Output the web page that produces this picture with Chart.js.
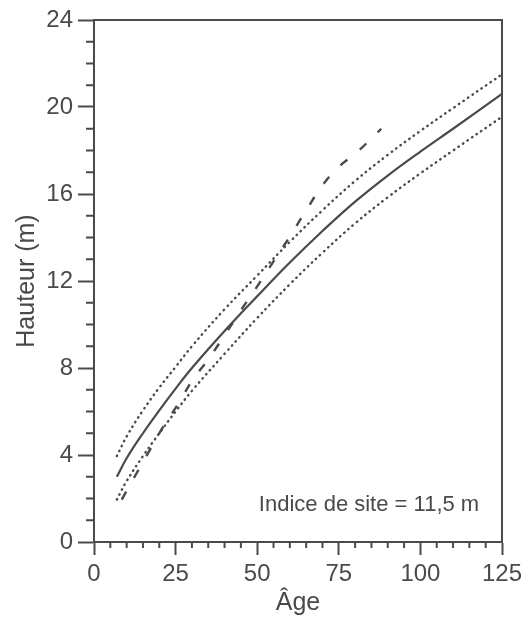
<!DOCTYPE html>
<html>
<head>
<meta charset="utf-8">
<script src="https://cdn.jsdelivr.net/npm/chart.js@4"></script>
<style>
  html, body { margin: 0; padding: 0; background: #fff; }
  #wrap { width: 532px; height: 624px; }
</style>
</head>
<body>
<div id="wrap"><canvas id="heightChart" width="532" height="624"></canvas></div>
<script>
// Courbe de hauteur, indice de site 11,5 m
var ages = [7, 10, 15, 20, 25, 30, 40, 50, 60, 70, 80, 90, 100, 110, 125];
var meanHeight = [3.0, 3.85, 5.0, 6.05, 7.05, 8.0, 9.7, 11.3, 12.85, 14.3, 15.65, 16.85, 17.95, 19.0, 20.6];
var upperHeight = [3.95, 4.85, 6.05, 7.1, 8.05, 9.0, 10.7, 12.25, 13.8, 15.25, 16.6, 17.8, 18.9, 19.95, 21.5];
var lowerHeight = [1.95, 2.8, 3.95, 5.0, 6.0, 6.95, 8.65, 10.3, 11.85, 13.3, 14.65, 15.85, 16.95, 18.0, 19.55];

var obsAges = [8.5, 13, 17, 21, 26, 30, 35, 40, 45, 50, 55, 60, 65, 70, 75, 80, 85, 88];
var obsHeight = [1.95, 3.15, 4.2, 5.25, 6.4, 7.4, 8.4, 9.5, 10.65, 11.75, 12.9, 14.05, 15.25, 16.4, 17.25, 17.85, 18.55, 19.0];

var xTicks = [0, 25, 50, 75, 100, 125];
var yTicks = [0, 4, 8, 12, 16, 20, 24];
var siteLabel = 'Indice de site = 11,5 m';

var INK = '#4a4a4a';
var FONT = "'Liberation Sans', Arial, Helvetica, sans-serif";

function pairs(xs, ys) {
    return xs.map(function (x, i) { return { x: x, y: ys[i] }; });
}

// minor ticks, frame (top/right) and the site index note
var extras = {
    id: 'extras',
    afterDraw: function (chart) {
        var ctx = chart.ctx;
        var xs = chart.scales.x;
        var ys = chart.scales.y;
        var a = chart.chartArea;
        ctx.save();
        ctx.strokeStyle = INK;
        ctx.lineWidth = 2;
        ctx.beginPath();
        for (var v = 0; v <= 125; v += 5) {
            if (v % 25 === 0) continue;
            var px = xs.getPixelForValue(v);
            ctx.moveTo(px, a.bottom);
            ctx.lineTo(px, a.bottom + 6);
        }
        for (var h = 0; h <= 24; h += 1) {
            if (h % 4 === 0) continue;
            var py = ys.getPixelForValue(h);
            ctx.moveTo(a.left, py);
            ctx.lineTo(a.left - 8, py);
        }
        ctx.moveTo(a.left, a.top);
        ctx.lineTo(a.right, a.top);
        ctx.lineTo(a.right, a.bottom);
        ctx.stroke();

        ctx.fillStyle = INK;
        ctx.font = '22px ' + FONT;
        ctx.textAlign = 'left';
        ctx.textBaseline = 'middle';
        ctx.fillText(siteLabel, xs.getPixelForValue(50.5), ys.getPixelForValue(1.7));
        ctx.restore();
    }
};

var dotted = { borderDash: [0.5, 5], borderCapStyle: 'round', borderWidth: 2.4 };

new Chart(document.getElementById('heightChart'), {
    type: 'line',
    data: {
        datasets: [{
            data: pairs(ages, upperHeight),
            borderColor: INK,
            borderWidth: dotted.borderWidth,
            borderDash: dotted.borderDash,
            borderCapStyle: dotted.borderCapStyle,
            pointRadius: 0,
            tension: 0.4,
        }, {
            data: pairs(ages, meanHeight),
            borderColor: INK,
            borderWidth: 2.2,
            pointRadius: 0,
            tension: 0.4,
        }, {
            data: pairs(ages, lowerHeight),
            borderColor: INK,
            borderWidth: dotted.borderWidth,
            borderDash: dotted.borderDash,
            borderCapStyle: dotted.borderCapStyle,
            pointRadius: 0,
            tension: 0.4,
        }, {
            data: pairs(obsAges, obsHeight),
            borderColor: INK,
            borderWidth: 2.4,
            borderDash: [9, 16],
            pointRadius: 0,
            tension: 0.4,
        }],
    },
    options: {
        responsive: false,
        animation: false,
        layout: { padding: { top: 20, right: 30, left: 0, bottom: 0 } },
        plugins: { legend: { display: false }, tooltip: { enabled: false } },
        scales: {
            x: {
                type: 'linear',
                min: 0,
                max: 125,
                afterBuildTicks: function (s) { s.ticks = xTicks.map(function (v) { return { value: v }; }); },
                afterFit: function (s) { s.height = 82; },
                ticks: { color: INK, font: { size: 24, family: FONT }, padding: 5, maxRotation: 0 },
                grid: { drawOnChartArea: false, tickLength: 13, tickColor: INK, tickWidth: 2 },
                border: { color: INK, width: 2 },
                title: { display: true, text: 'Âge', color: INK, font: { size: 25, family: FONT }, padding: { top: 0, bottom: 6 } },
            },
            y: {
                min: 0,
                max: 24,
                afterBuildTicks: function (s) { s.ticks = yTicks.map(function (v) { return { value: v }; }); },
                afterFit: function (s) { s.width = 94; },
                ticks: { color: INK, font: { size: 24, family: FONT }, padding: 5 },
                grid: { drawOnChartArea: false, tickLength: 16, tickColor: INK, tickWidth: 2 },
                border: { color: INK, width: 2 },
                title: { display: true, text: 'Hauteur (m)', color: INK, font: { size: 25, family: FONT }, padding: { top: 12, bottom: 0 } },
            },
        },
    },
    plugins: [extras],
});
</script>
</body>
</html>
